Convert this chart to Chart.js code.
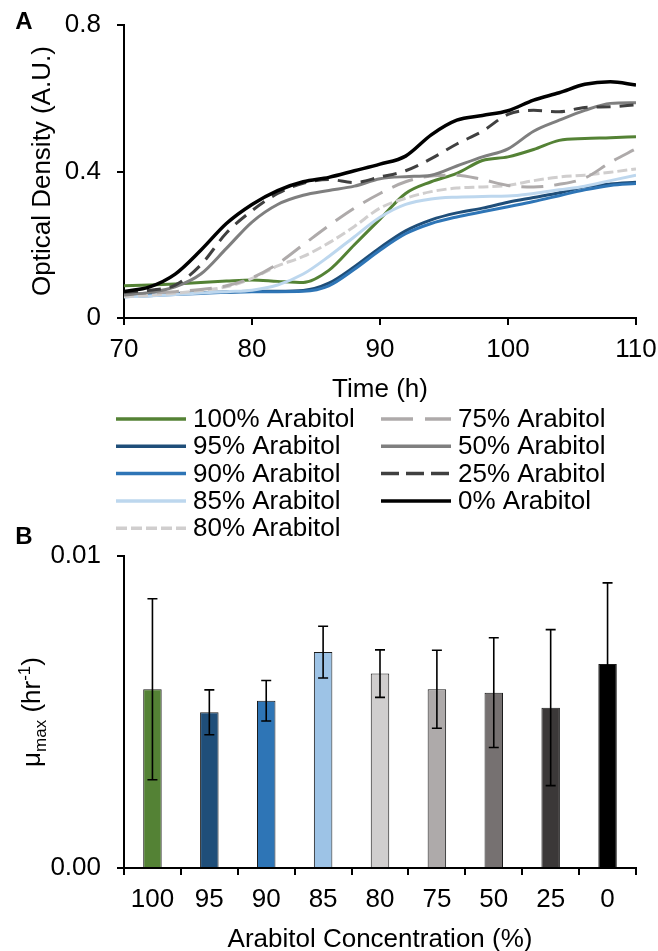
<!DOCTYPE html>
<html>
<head>
<meta charset="utf-8">
<title>Arabitol growth</title>
<script src="https://cdn.jsdelivr.net/npm/chart.js@4.4.0/dist/chart.umd.min.js"></script>
<style>
  html, body { margin: 0; padding: 0; background: #fff; }
  body { position: relative; width: 658px; height: 951px; overflow: hidden; }
  canvas { position: absolute; left: 0; }
  #growth { top: 0; }
  #mumax { top: 500px; }
</style>
</head>
<body>
<canvas id="growth" width="658" height="560"></canvas>
<canvas id="mumax" width="658" height="451"></canvas>
<script>
// panel A - optical density every 2 h
var hours = [70, 72, 74, 76, 78, 80, 82, 84, 86, 88, 90, 92, 94, 96, 98, 100, 102, 104, 106, 108, 110];
var od100 = [0.088, 0.090, 0.093, 0.097, 0.101, 0.104, 0.100, 0.097, 0.130, 0.200, 0.270, 0.340, 0.372, 0.395, 0.430, 0.440, 0.460, 0.485, 0.490, 0.492, 0.495];
var od95  = [0.063, 0.065, 0.067, 0.069, 0.071, 0.073, 0.073, 0.075, 0.095, 0.140, 0.192, 0.238, 0.268, 0.287, 0.300, 0.316, 0.329, 0.342, 0.358, 0.366, 0.371];
var od90  = [0.058, 0.061, 0.064, 0.067, 0.070, 0.072, 0.072, 0.073, 0.088, 0.133, 0.185, 0.230, 0.258, 0.276, 0.290, 0.304, 0.318, 0.334, 0.350, 0.362, 0.367];
var od85  = [0.058, 0.060, 0.064, 0.068, 0.072, 0.076, 0.090, 0.120, 0.168, 0.222, 0.275, 0.310, 0.325, 0.330, 0.332, 0.333, 0.340, 0.350, 0.360, 0.375, 0.390];
var od80  = [0.058, 0.062, 0.068, 0.075, 0.085, 0.108, 0.142, 0.168, 0.205, 0.250, 0.300, 0.327, 0.345, 0.355, 0.358, 0.362, 0.375, 0.385, 0.390, 0.398, 0.407];
var od75  = [0.065, 0.068, 0.072, 0.078, 0.088, 0.110, 0.148, 0.200, 0.252, 0.300, 0.340, 0.372, 0.388, 0.390, 0.378, 0.362, 0.358, 0.365, 0.382, 0.425, 0.462];
var od50  = [0.063, 0.070, 0.085, 0.120, 0.190, 0.262, 0.310, 0.335, 0.348, 0.360, 0.380, 0.386, 0.390, 0.415, 0.440, 0.462, 0.510, 0.540, 0.567, 0.586, 0.588];
var od25  = [0.070, 0.076, 0.090, 0.145, 0.232, 0.293, 0.340, 0.368, 0.378, 0.370, 0.385, 0.402, 0.435, 0.475, 0.510, 0.556, 0.567, 0.563, 0.575, 0.577, 0.582];
var od0   = [0.072, 0.085, 0.120, 0.185, 0.258, 0.310, 0.348, 0.372, 0.384, 0.402, 0.420, 0.442, 0.500, 0.540, 0.553, 0.566, 0.595, 0.615, 0.638, 0.645, 0.636];
var odTicks = [0, 0.4, 0.8];
var hourTicks = [70, 80, 90, 100, 110];

// panel B - max growth rate per condition
var concLabels = ['100', '95', '90', '85', '80', '75', '50', '25', '0'];
var muMax = [0.00573, 0.00499, 0.00536, 0.00692, 0.00623, 0.00573, 0.00562, 0.00514, 0.00654];
var muErr = [0.00290, 0.00072, 0.00065, 0.00083, 0.00076, 0.00125, 0.00176, 0.00250, 0.00260];
var muTicks = [0, 0.01];

var fam = '"Liberation Sans", Arial, sans-serif';

// line styles per series (legend dash is drawn a bit longer, like excel does)
var series = [
  { name: '100% Arabitol', data: od100, color: '#548235', dash: [], legendDash: [] },
  { name: '95% Arabitol', data: od95, color: '#1F4E79', dash: [], legendDash: [] },
  { name: '90% Arabitol', data: od90, color: '#2E75B6', dash: [], legendDash: [] },
  { name: '85% Arabitol', data: od85, color: '#BDD7EE', dash: [], legendDash: [] },
  { name: '80% Arabitol', data: od80, color: '#D0CECE', dash: [10, 4], legendDash: [11, 4] },
  { name: '75% Arabitol', data: od75, color: '#AEAAAA', dash: [22, 11], legendDash: [32, 12] },
  { name: '50% Arabitol', data: od50, color: '#7F7F7F', dash: [], legendDash: [] },
  { name: '25% Arabitol', data: od25, color: '#404040', dash: [14, 9], legendDash: [18, 7] },
  { name: '0% Arabitol', data: od0, color: '#000000', dash: [], legendDash: [] }
];

var lineSets = series.map(function(s, i) {
  return {
    label: s.name,
    data: hours.map(function(h, j) { return { x: h, y: s.data[j] }; }),
    borderColor: s.color,
    borderDash: s.dash,
    borderWidth: i == 8 ? 3.5 : 3,
    order: series.length - i,
    cubicInterpolationMode: 'monotone',
    pointRadius: 0,
    fill: false
  };
});

// plain text drawn on the canvas (titles, panel letters)
var panelText = {
  id: 'panelText',
  afterDraw: function(chart, args, opts) {
    var ctx = chart.ctx;
    ctx.save();
    ctx.fillStyle = '#000';
    (opts.items || []).forEach(function(it) {
      ctx.save();
      ctx.font = it.font || ('26px ' + fam);
      ctx.textAlign = 'center';
      ctx.textBaseline = 'middle';
      ctx.translate(it.x, it.y);
      if (it.rotate) ctx.rotate(-Math.PI / 2);
      ctx.fillText(it.text, 0, 0);
      ctx.restore();
    });
    if (opts.legend) drawLegend(chart, opts.legend);
    if (opts.muTitle) drawMuTitle(ctx, opts.muTitle.x, opts.muTitle.y);
    ctx.restore();
  }
};

function drawLegend(chart, lg) {
  var ctx = chart.ctx;
  series.forEach(function(s, i) {
    var col = i < lg.perCol ? 0 : 1;
    var row = col == 0 ? i : i - lg.perCol;
    var x0 = lg.cols[col];
    var y = lg.top + row * lg.rowH;
    ctx.save();
    ctx.strokeStyle = s.color;
    ctx.lineWidth = 3.5;
    ctx.setLineDash(s.legendDash);
    ctx.beginPath();
    ctx.moveTo(x0, y);
    ctx.lineTo(x0 + lg.lineW, y);
    ctx.stroke();
    ctx.setLineDash([]);
    ctx.fillStyle = '#000';
    ctx.font = '26px ' + fam;
    ctx.textAlign = 'left';
    ctx.textBaseline = 'middle';
    ctx.fillText(s.name, x0 + lg.lineW + 7, y + 1);
    ctx.restore();
  });
}

// mu_max (hr^-1) with sub/superscript
function drawMuTitle(ctx, cx, cy) {
  var parts = [
    { t: 'μ', size: 26, dy: 0 },
    { t: 'max', size: 17, dy: 6 },
    { t: ' (hr', size: 26, dy: 0 },
    { t: '-1', size: 17, dy: -10 },
    { t: ')', size: 26, dy: 0 }
  ];
  ctx.save();
  ctx.translate(cx, cy);
  ctx.rotate(-Math.PI / 2);
  var total = 0;
  parts.forEach(function(p) {
    ctx.font = p.size + 'px ' + fam;
    p.w = ctx.measureText(p.t).width;
    total += p.w;
  });
  var x = -total / 2;
  ctx.fillStyle = '#000';
  ctx.textAlign = 'left';
  ctx.textBaseline = 'alphabetic';
  parts.forEach(function(p) {
    ctx.font = p.size + 'px ' + fam;
    ctx.fillText(p.t, x, 9 + p.dy);
    x += p.w;
  });
  ctx.restore();
}

// error bars on top of the columns
var errorBars = {
  id: 'errorBars',
  afterDatasetsDraw: function(chart) {
    var ctx = chart.ctx;
    var yScale = chart.scales.y;
    var meta = chart.getDatasetMeta(0);
    ctx.save();
    ctx.strokeStyle = '#000';
    ctx.lineWidth = 1.6;
    meta.data.forEach(function(bar, i) {
      var hi = yScale.getPixelForValue(muMax[i] + muErr[i]);
      var lo = yScale.getPixelForValue(muMax[i] - muErr[i]);
      ctx.beginPath();
      ctx.moveTo(bar.x, hi); ctx.lineTo(bar.x, lo);
      ctx.moveTo(bar.x - 5, hi); ctx.lineTo(bar.x + 5, hi);
      ctx.moveTo(bar.x - 5, lo); ctx.lineTo(bar.x + 5, lo);
      ctx.stroke();
    });
    ctx.restore();
  }
};

function axisStyle(extra) {
  var ax = {
    grid: { drawOnChartArea: false, drawTicks: true, tickLength: 7, color: '#000', lineWidth: 2 },
    border: { color: '#000', width: 2 },
    ticks: { color: '#000', font: { family: fam, size: 26 } }
  };
  for (var k in extra) {
    if (typeof extra[k] == 'object' && ax[k]) {
      for (var j in extra[k]) ax[k][j] = extra[k][j];
    } else {
      ax[k] = extra[k];
    }
  }
  return ax;
}

// keep the plot box where the layout paddings put it
function fixX(h) {
  return function(s) { s.height = h; s.paddingLeft = 0; s.paddingRight = 0; };
}
function fixY(w) {
  return function(s) { s.width = w; s.paddingTop = 0; s.paddingBottom = 0; };
}

// panel A
var growthChart = new Chart(document.getElementById('growth'), {
  type: 'line',
  data: { datasets: lineSets },
  options: {
    responsive: false,
    animation: false,
    layout: { padding: { left: 0, right: 22, top: 25, bottom: 0 } },
    plugins: {
      legend: { display: false },
      tooltip: { enabled: false },
      panelText: {
        items: [
          { text: 'A', x: 24, y: 22, font: 'bold 24px ' + fam },
          { text: 'Time (h)', x: 380, y: 390 },
          { text: 'Optical Density (A.U.)', x: 43, y: 171, rotate: true }
        ],
        legend: { cols: [116, 381], lineW: 70, top: 419, rowH: 27.3, perCol: 5 }
      }
    },
    scales: {
      x: axisStyle({
        type: 'linear',
        min: hourTicks[0],
        max: hourTicks[hourTicks.length - 1],
        ticks: { stepSize: 10, padding: 9 },
        afterBuildTicks: function(s) { s.ticks = hourTicks.map(function(v) { return { value: v }; }); },
        afterFit: fixX(560 - 318)
      }),
      y: axisStyle({
        min: odTicks[0],
        max: odTicks[odTicks.length - 1],
        ticks: { padding: 16 },
        afterBuildTicks: function(s) { s.ticks = odTicks.map(function(v) { return { value: v }; }); },
        afterFit: fixY(124)
      })
    }
  },
  plugins: [panelText]
});

// panel B
var barColors = ['#548235', '#1F4E79', '#2E75B6', '#9DC3E6', '#D0CECE', '#AEAAAA', '#767171', '#3B3838', '#000000'];

var muChart = new Chart(document.getElementById('mumax'), {
  type: 'bar',
  data: {
    labels: concLabels,
    datasets: [{
      label: 'mu max',
      data: muMax,
      backgroundColor: barColors,
      borderColor: '#1a1a1a',
      borderWidth: 1,
      categoryPercentage: 1,
      barPercentage: 0.325
    }]
  },
  options: {
    responsive: false,
    animation: false,
    layout: { padding: { left: 0, right: 22, top: 56, bottom: 0 } },
    plugins: {
      legend: { display: false },
      tooltip: { enabled: false },
      panelText: {
        items: [
          { text: 'B', x: 24, y: 37, font: 'bold 24px ' + fam },
          { text: 'Arabitol Concentration (%)', x: 380, y: 440 }
        ],
        muTitle: { x: 31, y: 212 }
      }
    },
    scales: {
      x: axisStyle({
        ticks: { padding: 9 },
        afterFit: fixX(451 - 368)
      }),
      y: axisStyle({
        min: muTicks[0],
        max: muTicks[muTicks.length - 1],
        ticks: { padding: 16, callback: function(v) { return v.toFixed(2); } },
        afterBuildTicks: function(s) { s.ticks = muTicks.map(function(v) { return { value: v }; }); },
        afterFit: fixY(124)
      })
    }
  },
  plugins: [panelText, errorBars]
});
</script>
</body>
</html>
